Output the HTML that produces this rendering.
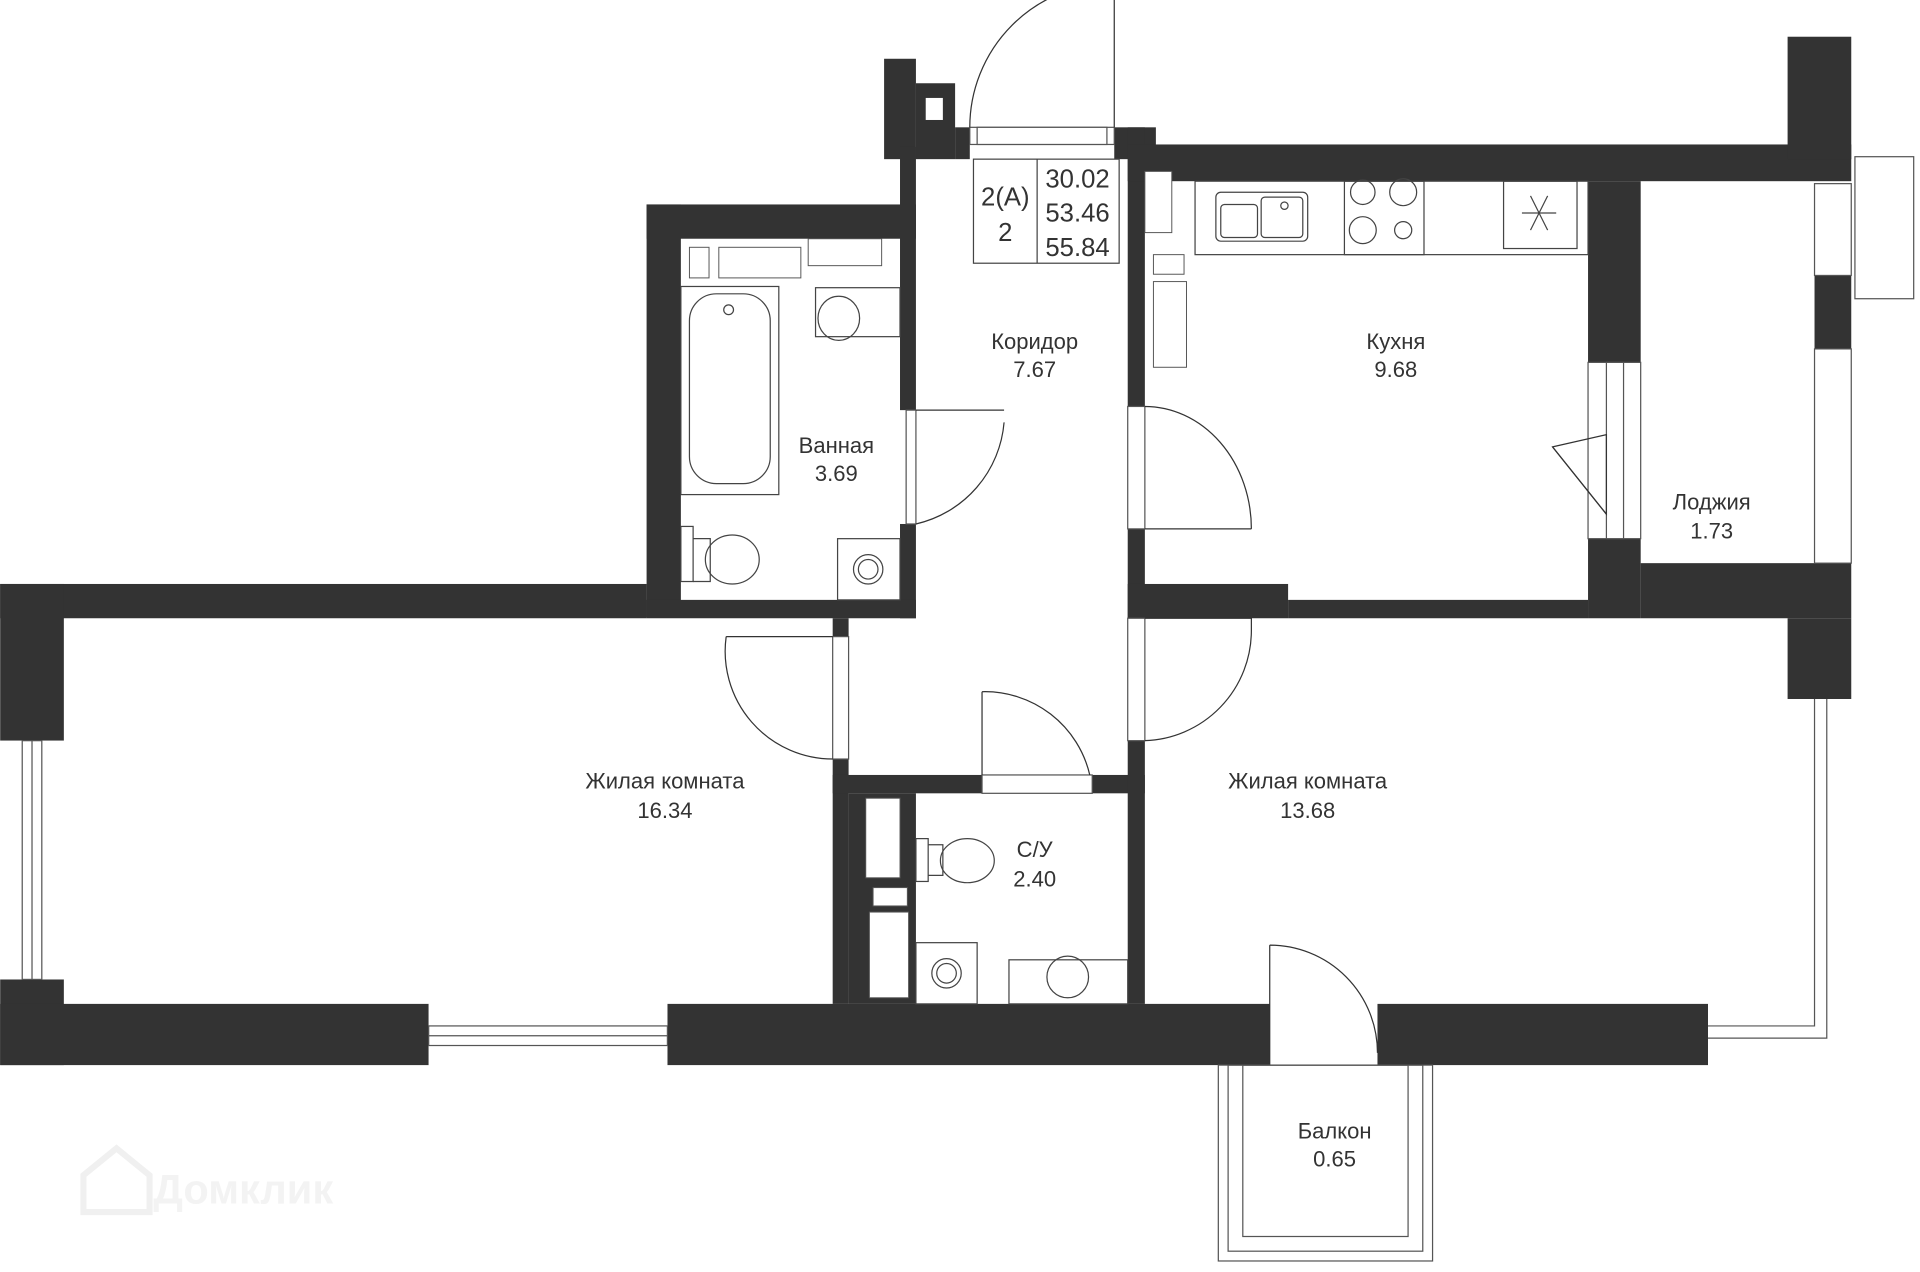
<!DOCTYPE html>
<html><head><meta charset="utf-8"><style>
html,body{margin:0;padding:0;background:#fff;width:1920px;height:1272px;overflow:hidden}
svg{display:block}
text{font-family:"Liberation Sans",sans-serif;fill:#333;}
</style></head><body>
<svg width="1920" height="1272" viewBox="0 0 1568 1039" xmlns="http://www.w3.org/2000/svg">
<g fill="#333">
<rect x="722" y="48" width="26" height="82"/>
<rect x="748" y="68" width="32" height="62"/>
<rect x="780" y="104" width="12" height="26"/>
<rect x="910" y="104" width="34" height="26"/>
<rect x="528" y="167" width="220" height="28"/>
<rect x="528" y="167" width="28" height="337"/>
<rect x="735" y="120" width="13" height="215"/>
<rect x="735" y="428" width="13" height="77"/>
<rect x="921" y="104" width="14" height="228"/>
<rect x="921" y="432" width="14" height="73"/>
<rect x="921" y="118" width="591" height="30"/>
<rect x="1460" y="30" width="52" height="100"/>
<rect x="1297" y="148" width="43" height="148"/>
<rect x="1297" y="440" width="43" height="65"/>
<rect x="1482" y="225" width="30" height="60"/>
<rect x="1340" y="460" width="172" height="45"/>
<rect x="0" y="477" width="528" height="28"/>
<rect x="0" y="477" width="52" height="128"/>
<rect x="528" y="490" width="220" height="15"/>
<rect x="921" y="477" width="131" height="28"/>
<rect x="1052" y="490" width="245" height="15"/>
<rect x="1460" y="505" width="52" height="66"/>
<rect x="0" y="800" width="52" height="70"/>
<rect x="0" y="820" width="350" height="50"/>
<rect x="545" y="820" width="492" height="50"/>
<rect x="1125" y="820" width="270" height="50"/>
<rect x="680" y="505" width="13" height="15"/>
<rect x="680" y="620" width="13" height="200"/>
<rect x="680" y="633" width="122" height="15"/>
<rect x="892" y="633" width="43" height="15"/>
<rect x="921" y="605" width="14" height="215"/>
<rect x="693" y="648" width="55" height="172"/>
</g>
<g fill="#fff" stroke="#555" stroke-width="0.8">
<rect x="756" y="80" width="14" height="18" stroke="none"/>
<rect x="563" y="202" width="16" height="25"/>
<rect x="587" y="202" width="67" height="25"/>
<rect x="660" y="195" width="60" height="22"/>
<rect x="935" y="140" width="22" height="50"/>
<rect x="942" y="208" width="25" height="16"/>
<rect x="942" y="230" width="27" height="70"/>
<rect x="707" y="652" width="28" height="65"/>
<rect x="713" y="725" width="28" height="15"/>
<rect x="710" y="745" width="32" height="70"/>
</g>
<g fill="#fff" stroke="#555" stroke-width="1">
<rect x="0" y="605" width="52" height="195" stroke="none"/>
<rect x="18" y="605" width="16" height="195"/>
<line x1="26" y1="605" x2="26" y2="800"/>
<rect x="350" y="820" width="195" height="50" stroke="none"/>
<rect x="350" y="838" width="195" height="16"/>
<line x1="350" y1="846" x2="545" y2="846"/>
<rect x="1460" y="571" width="52" height="300" stroke="none"/>
<rect x="1395" y="820" width="117" height="50" stroke="none"/>
<polyline points="1482,571 1482,838 1395,838" fill="none"/>
<polyline points="1492,571 1492,848 1395,848" fill="none"/>
<rect x="1482" y="150" width="30" height="75"/>
<rect x="1482" y="285" width="30" height="175"/>
<rect x="1515" y="128" width="48" height="116"/>
<rect x="1297" y="296" width="43" height="144"/>
<rect x="1312" y="296" width="14" height="144"/>
<rect x="792" y="104" width="118" height="14"/>
<rect x="798" y="104" width="106" height="14"/>
<rect x="740" y="335" width="8" height="93"/>
<rect x="921" y="332" width="14" height="100"/>
<rect x="921" y="505" width="14" height="100"/>
<rect x="680" y="520" width="13" height="100"/>
<rect x="802" y="633" width="90" height="15"/>
</g>
<g fill="none" stroke="#333" stroke-width="1">
<path d="M792 104 A118 118 0 0 1 910 -14"/>
<line x1="910" y1="104" x2="910" y2="-14"/>
<path d="M748 335 L820 335 M748 428 A93 93 0 0 0 820 345"/>
<path d="M935 432 L1022 432 M935 332 A87 100 0 0 1 1022 432"/>
<path d="M935 505 L1022 505 L1022 515 M1022 515 A90 90 0 0 1 935 605"/>
<path d="M680 520 L593 520 M593 520 A88 88 0 0 0 680 620"/>
<path d="M802 633 L802 565 M802 565 A88 88 0 0 1 890 633"/>
<path d="M1037 870 L1037 772 M1037 772 A88 88 0 0 1 1125 860"/>
<path d="M1268 365 L1312 355 L1312 420 Z"/>
<line x1="1268" y1="365" x2="1312" y2="420"/>
</g>
<g fill="none" stroke="#555" stroke-width="1">
<rect x="995" y="870" width="175" height="160"/>
<rect x="1003" y="870" width="159" height="152"/>
<rect x="1015" y="870" width="135" height="140"/>
</g>
<g fill="none" stroke="#444" stroke-width="1">
<rect x="976" y="148" width="321" height="60"/>
<rect x="993" y="157" width="75" height="40" rx="4"/>
<rect x="997" y="167" width="30" height="27" rx="3"/>
<rect x="1030" y="161" width="34" height="33" rx="3"/>
<circle cx="1049" cy="168" r="3"/>
<rect x="1098" y="148" width="65" height="60"/>
<circle cx="1113" cy="157" r="10"/><circle cx="1146" cy="157" r="11"/>
<circle cx="1113" cy="188" r="11"/><circle cx="1146" cy="188" r="7"/>
<rect x="1228" y="148" width="60" height="55"/>
<path d="M1250 160 L1264 188 M1264 160 L1250 188 M1243 174 L1271 174"/>
<rect x="556" y="234" width="80" height="170"/>
<rect x="563" y="240" width="66" height="155" rx="22"/>
<circle cx="595" cy="253" r="4"/>
<rect x="666" y="235" width="69" height="40"/>
<ellipse cx="685" cy="260" rx="17" ry="18"/>
<rect x="556" y="430" width="10" height="45"/>
<path d="M566 440 L580 440 L580 475 L566 475"/>
<ellipse cx="598" cy="457" rx="22" ry="20"/>
<rect x="684" y="440" width="51" height="50"/>
<circle cx="709" cy="465" r="12"/><circle cx="709" cy="465" r="8"/>
<rect x="748" y="685" width="10" height="35"/>
<path d="M758 690 L770 690 L770 715 L758 715"/>
<ellipse cx="790" cy="703" rx="22" ry="18"/>
<rect x="748" y="770" width="50" height="50"/>
<circle cx="773" cy="795" r="12"/><circle cx="773" cy="795" r="8"/>
<rect x="824" y="784" width="97" height="36"/>
<circle cx="872" cy="798" r="17"/>
</g>
<g fill="none" stroke="#444" stroke-width="1">
<rect x="795" y="130" width="119" height="85"/>
<line x1="847" y1="130" x2="847" y2="215"/>
</g>
<g font-size="21">
<text x="821" y="168" text-anchor="middle">2(А)</text>
<text x="821" y="197" text-anchor="middle">2</text>
<text x="880" y="153" text-anchor="middle">30.02</text>
<text x="880" y="181" text-anchor="middle">53.46</text>
<text x="880" y="209" text-anchor="middle">55.84</text>
</g>
<g font-size="18" text-anchor="middle">
<text x="845" y="285">Коридор</text><text x="845" y="308">7.67</text>
<text x="1140" y="285">Кухня</text><text x="1140" y="308">9.68</text>
<text x="683" y="370">Ванная</text><text x="683" y="393">3.69</text>
<text x="1398" y="416">Лоджия</text><text x="1398" y="440">1.73</text>
<text x="543" y="644">Жилая комната</text><text x="543" y="668">16.34</text>
<text x="1068" y="644">Жилая комната</text><text x="1068" y="668">13.68</text>
<text x="845" y="700">С/У</text><text x="845" y="724">2.40</text>
<text x="1090" y="930">Балкон</text><text x="1090" y="953">0.65</text>
</g>
<text x="125" y="983" font-size="34" font-weight="bold" style="fill:#f3f3f3">Домклик</text>
<path d="M68 960 L95 938 L122 960 L122 990 L68 990 Z" fill="none" stroke="#f0f0f0" stroke-width="5"/>
</svg>
</body></html>
